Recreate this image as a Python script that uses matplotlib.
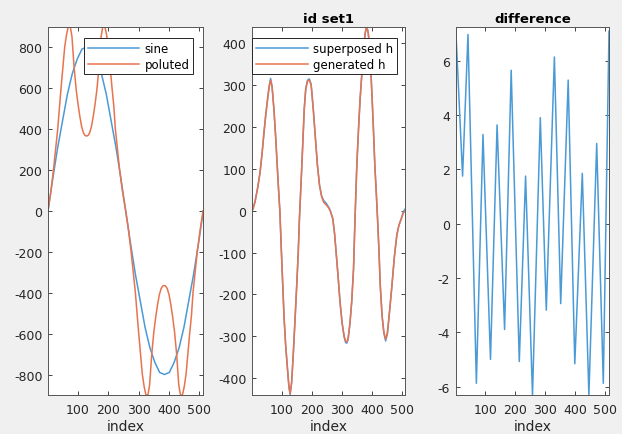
import numpy as np
import matplotlib.pyplot as plt

plt.rcParams['font.family'] = ['DejaVu Sans']
plt.rcParams['axes.unicode_minus'] = False

# panel 1: sine and polluted sine
sine_x = [1, 17, 33, 49, 65, 81, 97, 113, 129, 145, 161, 177, 193, 209, 225, 241,
          257, 273, 289, 305, 321, 337, 353, 369, 385, 401, 417, 433, 449, 465, 481, 497, 512]
sine_y = [0, 160, 310, 440, 570, 670, 740, 790, 800, 790, 740, 670, 570, 440, 310, 160,
          0, -160, -310, -440, -570, -670, -740, -790, -800, -790, -740, -670, -570, -440, -310, -160, -10]

pol_x = [1, 10, 19, 26, 33, 39, 44, 50, 56, 62, 67, 71, 75, 80, 87, 94, 100, 106, 112, 118, 123,
         128, 133, 138, 144, 150, 156, 162, 169, 176, 181, 185, 189, 194, 200, 206, 212, 218, 223,
         230, 237, 246, 257,
         266, 275, 282, 289, 295, 300, 306, 312, 318, 323, 327, 331, 336, 343, 350, 356, 362, 368,
         374, 379, 384, 389, 394, 400, 406, 412, 418, 425, 432, 437, 441, 445, 450, 456, 462, 468,
         474, 479, 486, 493, 502, 512]
pol_y = [0, 90, 200, 300, 400, 510, 600, 700, 800, 860, 895, 905, 895, 850, 700, 590, 520, 460,
         410, 380, 368, 365, 368, 380, 410, 460, 520, 590, 700, 850, 895, 905, 895, 860, 800, 700,
         600, 510, 400, 300, 200, 100, 0,
         -90, -200, -300, -400, -510, -600, -700, -800, -860, -895, -905, -895, -850, -700, -590,
         -520, -460, -410, -380, -368, -365, -368, -380, -410, -460, -520, -590, -700, -850, -895,
         -905, -895, -860, -800, -700, -600, -510, -400, -300, -200, -100, 0]

# panel 2: id set1
gen_x = [1, 5, 11, 20, 28, 35, 41, 47, 53, 58, 63, 68, 74, 80, 85, 90, 94, 98, 103, 108, 113,
         119, 124, 128, 133, 139, 145, 150, 155, 159, 163, 167, 171, 175, 180, 186, 192, 198, 205,
         212, 219, 226, 233, 240, 248, 255, 261, 266, 270, 276, 281, 288, 294, 301, 308, 313, 317,
         321, 327, 333, 339, 344, 350, 356, 361, 367, 372, 378, 383, 388, 393, 397, 401, 405, 410,
         415, 419, 424, 428, 434, 440, 446, 452, 459, 467, 475, 483, 490, 498, 505, 512]
gen_y = [0, 5, 20, 55, 92, 140, 187, 230, 267, 295, 312, 295, 243, 175, 108, 45, -3, -80, -170,
         -257, -320, -376, -420, -437, -410, -336, -250, -178, -100, -19, 45, 108, 175, 243, 290,
         310, 312, 300, 243, 175, 108, 60, 33, 20, 14, 8, 1, -10, -19, -55, -98, -160, -217, -268,
         -300, -312, -313, -305, -270, -217, -140, -19, 108, 200, 267, 330, 386, 425, 440, 425, 386,
         330, 267, 200, 108, 40, -19, -100, -178, -250, -290, -307, -290, -240, -178, -110, -59,
         -35, -19, -5, 0]
sup_y = [-3, 8, 22, 55, 92, 140, 187, 230, 267, 297, 316, 297, 243, 175, 108, 45, -3, -80, -170,
         -257, -320, -376, -420, -439, -410, -336, -250, -178, -100, -19, 45, 108, 175, 243, 292,
         312, 315, 302, 243, 175, 108, 60, 35, 24, 18, 10, 2, -10, -19, -55, -98, -160, -217, -268,
         -302, -315, -316, -307, -270, -217, -140, -19, 108, 200, 267, 330, 386, 425, 441, 425, 386,
         330, 267, 200, 108, 40, -19, -100, -178, -250, -292, -311, -293, -240, -178, -110, -59,
         -35, -19, -2, 5]

# panel 3: difference
dif_x = [1, 24, 42, 70, 92, 117, 139, 164, 186, 213, 234, 257, 283, 303, 330, 351, 376, 398,
         423, 445, 471, 493, 512]
dif_y = [7.24, 1.75, 6.96, -5.87, 3.28, -4.99, 3.63, -3.89, 5.64, -5.07, 1.75, -6.3, 3.9, -3.18,
         6.13, -2.94, 5.28, -5.15, 1.85, -6.3, 2.95, -5.87, 7.08]

blue = '#4a9ad6'
orange = '#e8734e'
dark = '#262626'

fig = plt.figure(figsize=(6.22, 4.35), dpi=100, facecolor='#f0f0f0')
ax1 = fig.add_axes([0.0772, 0.0897, 0.2492, 0.847])
ax2 = fig.add_axes([0.4051, 0.0897, 0.2468, 0.847])
ax3 = fig.add_axes([0.7326, 0.0897, 0.2465, 0.847])

ax1.plot(sine_x, sine_y, color=blue, lw=1.1, label='sine')
ax1.plot(pol_x, pol_y, color=orange, lw=1.1, label='poluted')
ax1.set_ylim(-900, 900)
ax1.set_yticks(np.arange(-800, 801, 200))

ax2.plot(gen_x, sup_y, color=blue, lw=1.1, label='superposed h')
ax2.plot(gen_x, gen_y, color=orange, lw=1.1, label='generated h')
ax2.set_ylim(-440, 440)
ax2.set_yticks(np.arange(-400, 401, 100))
ax2.set_title('id set1', fontsize=9.5, fontweight='bold', color='black', pad=3)

ax3.plot(dif_x, dif_y, color=blue, lw=1.1, solid_joinstyle='round')
ax3.set_ylim(-6.3, 7.25)
ax3.set_yticks(np.arange(-6, 7, 2))
ax3.set_title('difference', fontsize=9.5, fontweight='bold', color='black', pad=3)

for ax in (ax1, ax2, ax3):
    ax.set_xlim(1, 512)
    ax.set_xticks([100, 200, 300, 400, 500])
    ax.set_xlabel('index', fontsize=10, color=dark, labelpad=2)
    ax.tick_params(direction='in', top=True, right=True, length=3, width=0.6,
                   labelsize=9, colors=dark, pad=4)
    ax.tick_params(axis='x', pad=6)
    for s in ax.spines.values():
        s.set_color('#555555')
        s.set_linewidth(0.7)

legend_style = dict(loc='upper right', borderaxespad=0, fontsize=8.5, handlelength=4.4,
                    fancybox=False, edgecolor=dark, framealpha=1, borderpad=0.3,
                    labelspacing=0.25, handletextpad=0.45)
lg1 = ax1.legend(bbox_to_anchor=(0.9374, 0.968), **legend_style)
lg2 = ax2.legend(bbox_to_anchor=(0.943, 0.968), **legend_style)
for lg in (lg1, lg2):
    lg.get_frame().set_linewidth(0.7)

fig.savefig('out.png', dpi=100, facecolor=fig.get_facecolor())
